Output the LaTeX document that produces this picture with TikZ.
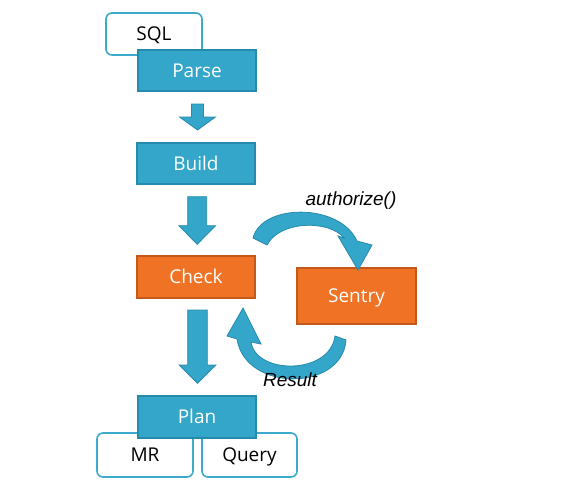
\documentclass[tikz,border=0pt]{standalone}
\usepackage{fontspec}
\setmainfont{Open Sans}
\newfontfamily\labelfont{Liberation Sans}
\usetikzlibrary{calc}
\definecolor{boxblue}{RGB}{52,166,201}
\definecolor{boxblueline}{RGB}{38,138,172}
\definecolor{boxorange}{RGB}{240,114,36}
\definecolor{boxorangeline}{RGB}{196,88,26}
\definecolor{whiteline}{RGB}{60,170,205}
\tikzset{
  base/.style={inner sep=0pt, text height=13.6pt, text depth=0pt, font=\fontsize{19}{22}\selectfont},
  bluebox/.style={base, rectangle, fill=boxblue, draw=boxblueline, line width=1.4pt, text=white},
  orangebox/.style={base, rectangle, fill=boxorange, draw=boxorangeline, line width=1.4pt, text=white},
  whitebox/.style={base, rectangle, rounded corners=6pt, fill=white, draw=whiteline, line width=1.6pt, text=black},
  blockarrow/.style={fill=boxblue, draw=boxblueline, line width=0.8pt, line join=miter},
  italiclabel/.style={font=\labelfont\itshape\fontsize{19}{22}\selectfont, inner sep=0pt}
}
\newcommand\downblock[6]{% x, ytop, ybase, ytip, half shaft, half head
  \draw[blockarrow] (#1-#5,#2) -- (#1+#5,#2) -- (#1+#5,#3) -- (#1+#6,#3) -- (#1,#4) -- (#1-#6,#3) -- (#1-#5,#3) -- cycle;}
\begin{document}
\begin{tikzpicture}[x=1pt,y=-1pt]
\useasboundingbox (0,0) rectangle (577,490);
% top
\node[whitebox, minimum width=96pt, minimum height=42pt] (sql) at (154,34) {SQL};
\node[bluebox, minimum width=118pt, minimum height=41pt] (parse) at (197,70.5) {Parse};
\node[bluebox, minimum width=118pt, minimum height=41pt] (build) at (196,163.5) {Build};
\node[orangebox, minimum width=118pt, minimum height=42pt] (check) at (196,277) {Check};
\node[orangebox, minimum width=119pt, minimum height=56pt] (sentry) at (356.5,296) {Sentry};
\node[whitebox, minimum width=96pt, minimum height=44pt] (mr) at (145,455) {MR};
\node[whitebox, minimum width=95pt, minimum height=44pt] (query) at (249.5,455) {Query};
\node[bluebox, minimum width=118pt, minimum height=42pt] (plan) at (197,417) {Plan};
% straight block arrows
\downblock{197.5}{104}{117}{130}{6}{18}
\downblock{197.2}{196.7}{225.7}{244.3}{9.5}{18.3}
\downblock{197.5}{310}{365}{383.3}{9.8}{18.3}
% curved arrow authorize
\draw[blockarrow] (253,238) .. controls (262,203) and (340,203) .. (357,241)
  -- (372,245) -- (358,270) -- (338,236) -- (344,238)
  .. controls (330,220) and (280,220) .. (267,245) -- cycle;
\node[italiclabel] (authlabel) at (351,201) {authorize()};
% curved arrow result
\draw[blockarrow] (346,340) .. controls (342,392) and (245,392) .. (237,339)
  -- (227,336) -- (243,308) -- (261,344) -- (251,342)
  .. controls (256,375) and (330,375) .. (335,336) -- cycle;
\node[italiclabel] (reslabel) at (290,379.5) {Result};
\end{tikzpicture}
\end{document}
